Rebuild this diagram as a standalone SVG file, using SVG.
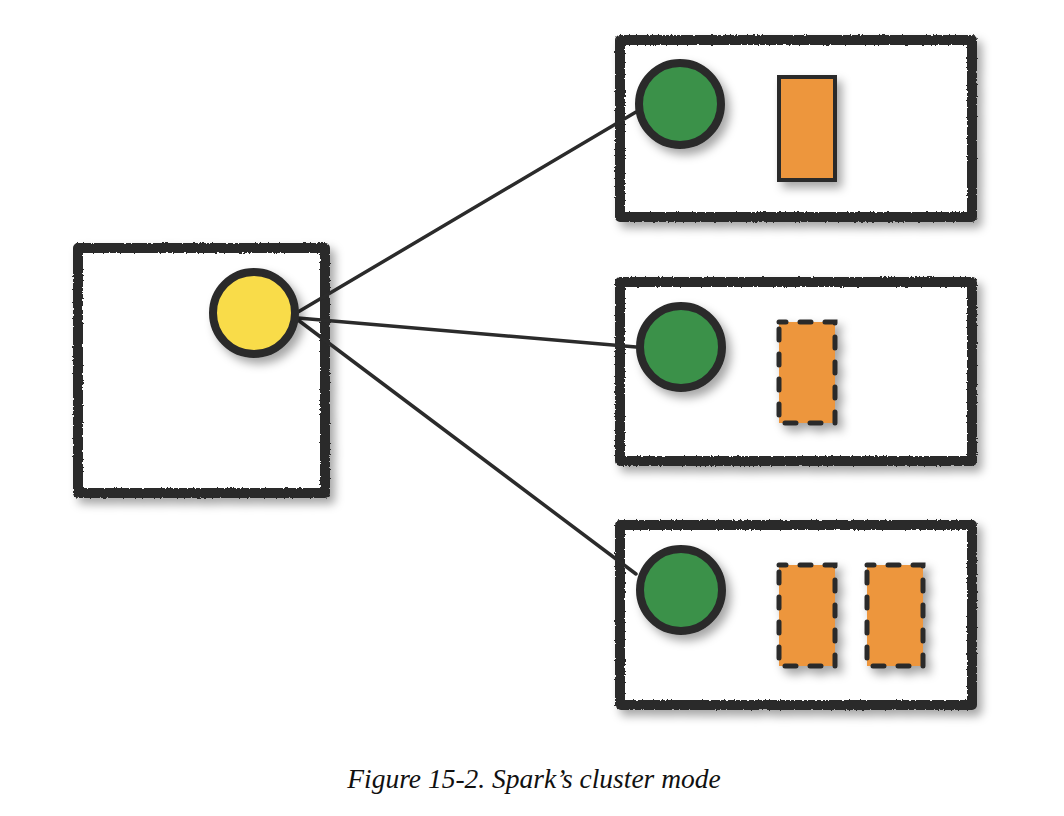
<svg xmlns="http://www.w3.org/2000/svg" width="1064" height="816" viewBox="0 0 1064 816">
  <defs>
    <filter id="shadow" x="-20%" y="-20%" width="150%" height="150%">
      <feDropShadow dx="5" dy="6" stdDeviation="5" flood-color="#000" flood-opacity="0.35"/>
    </filter>
    <!-- hand-drawn edge wobble plus drop shadow for the machine frames -->
    <filter id="roughShadow" x="-10%" y="-10%" width="125%" height="130%">
      <feTurbulence type="fractalNoise" baseFrequency="0.45" numOctaves="2" seed="7" result="n"/>
      <feDisplacementMap in="SourceGraphic" in2="n" scale="3" xChannelSelector="R" yChannelSelector="G" result="r"/>
      <feDropShadow in="r" dx="5" dy="6" stdDeviation="5" flood-color="#000" flood-opacity="0.35"/>
    </filter>
  </defs>
  <style>
    .box { fill: #ffffff; stroke: #2b2b2b; stroke-width: 10; stroke-linejoin: round; }
    .driver { fill: #f9dc4a; stroke: #2b2b2b; stroke-width: 8; }
    .exec { fill: #3a914a; stroke: #2b2b2b; stroke-width: 8; }
    .task { fill: #ed963c; stroke: #2b2b2b; stroke-width: 4; }
    .task.dashed { stroke-width: 5; stroke-dasharray: 11 14; stroke-dashoffset: 4; stroke-linecap: round; }
    .link { stroke: #2b2b2b; stroke-width: 3.5; fill: none; stroke-linecap: round; }
    .caption { font-family: "Liberation Serif", serif; font-style: italic; font-size: 27.5px; fill: #111; }
  </style>

  <rect width="1064" height="816" fill="#ffffff"/>

  <!-- driver machine -->
  <g id="driver-node">
    <rect class="box" x="78" y="248" width="247" height="245" filter="url(#roughShadow)"/>
  </g>

  <!-- worker machines -->
  <g id="worker-1">
    <rect class="box" x="620" y="40" width="352" height="177" filter="url(#roughShadow)"/>
  </g>
  <g id="worker-2">
    <rect class="box" x="620" y="282" width="352" height="179" filter="url(#roughShadow)"/>
  </g>
  <g id="worker-3">
    <rect class="box" x="620" y="525" width="352" height="180" filter="url(#roughShadow)"/>
  </g>

  <!-- driver to executor links -->
  <g id="connectors">
    <line class="link" x1="298" y1="312" x2="636" y2="112"/>
    <line class="link" x1="298" y1="318" x2="636" y2="347"/>
    <line class="link" x1="298" y1="320" x2="636" y2="574"/>
  </g>

  <g id="driver">
    <circle class="driver" cx="254" cy="313" r="41" filter="url(#shadow)"/>
  </g>

  <g id="executor-1">
    <circle class="exec" cx="680" cy="104" r="41" filter="url(#shadow)"/>
    <rect class="task" x="779" y="77" width="56" height="103" filter="url(#shadow)"/>
  </g>
  <g id="executor-2">
    <circle class="exec" cx="681" cy="347" r="41" filter="url(#shadow)"/>
    <rect class="task dashed" x="779" y="322" width="56" height="101" filter="url(#shadow)"/>
  </g>
  <g id="executor-3">
    <circle class="exec" cx="681" cy="590" r="41" filter="url(#shadow)"/>
    <rect class="task dashed" x="779" y="565" width="56" height="101" filter="url(#shadow)"/>
    <rect class="task dashed" x="867" y="565" width="56" height="101" filter="url(#shadow)"/>
  </g>

  <text class="caption" x="534" y="788" text-anchor="middle">Figure 15-2. Spark’s cluster mode</text>
</svg>
